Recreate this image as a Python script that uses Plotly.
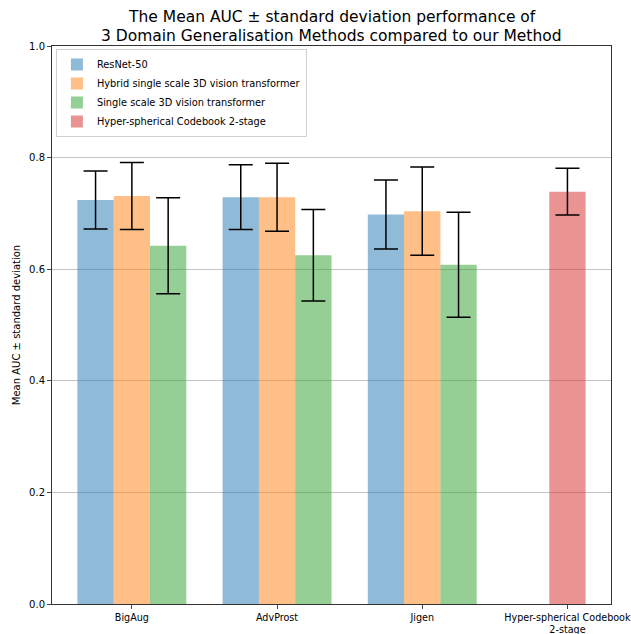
import plotly.graph_objects as go

categories = ["BigAug", "AdvProst", "Jigen", "Hyper-spherical Codebook<br>2-stage"]
series_names = ["ResNet-50", "Hybrid single scale 3D vision transformer",
                "Single scale 3D vision transformer", "Hyper-spherical Codebook 2-stage"]
resnet_mean = [0.724, 0.729, 0.698]
resnet_std = [0.052, 0.058, 0.062]
hybrid_mean = [0.731, 0.729, 0.704]
hybrid_std = [0.060, 0.061, 0.079]
single_mean = [0.642, 0.625, 0.608]
single_std = [0.086, 0.082, 0.094]
hyper_mean = [0.739]
hyper_std = [0.042]
title_lines = ["The Mean AUC ± standard deviation performance of",
               "3 Domain Generalisation Methods compared to our Method"]

colors = ["rgba(31,119,180,0.5)", "rgba(255,127,14,0.5)",
          "rgba(44,160,44,0.5)", "rgba(214,39,40,0.5)"]
width = 0.25

fig = go.Figure()
groups = [(resnet_mean, resnet_std, -width), (hybrid_mean, hybrid_std, 0.0),
          (single_mean, single_std, width)]
for i, (m, s, off) in enumerate(groups):
    fig.add_trace(go.Bar(
        x=[j + off for j in range(len(m))], y=m, width=width,
        name=series_names[i], marker=dict(color=colors[i], line=dict(width=0)),
        error_y=dict(type="data", array=s, color="black", thickness=1.5, width=12),
    ))
fig.add_trace(go.Bar(
    x=[3], y=hyper_mean, width=width, name=series_names[3],
    marker=dict(color=colors[3], line=dict(width=0)),
    error_y=dict(type="data", array=hyper_std, color="black", thickness=1.5, width=12),
))

H_plot = 558.0
def paper_y(py):
    return (604 - py) / H_plot

annotations = []
for k, (line, py) in enumerate(zip(title_lines, [17, 36])):
    annotations.append(dict(text=line, xref="paper", yref="paper", x=0.5, y=paper_y(py),
                            xanchor="center", yanchor="middle", showarrow=False,
                            font=dict(size=15.5, family="DejaVu Sans", color="black")))

fig.update_layout(
    width=631, height=634,
    margin=dict(l=52, r=20, t=46, b=30),
    plot_bgcolor="white", paper_bgcolor="white",
    barmode="overlay",
    font=dict(family="DejaVu Sans", size=10, color="black"),
    annotations=annotations,
    legend=dict(x=0.007, y=paper_y(49), xanchor="left", yanchor="top",
                bgcolor="rgba(255,255,255,0.8)", bordercolor="#d0d0d0", borderwidth=1,
                font=dict(size=9.8), tracegroupgap=0, itemwidth=30),
    showlegend=True,
)
fig.update_xaxes(range=[-0.55, 3.3], tickvals=list(range(len(categories))),
                 ticktext=categories, ticks="outside", ticklen=4, showgrid=False,
                 showline=True, linecolor="#333333", linewidth=1, mirror=True,
                 zeroline=False, automargin=False, ticklabeloverflow="allow",
                 tickfont=dict(size=9.6))
fig.update_yaxes(range=[0, 1.0], dtick=0.2, tickformat=".1f", ticks="outside", ticklen=4,
                 showgrid=True, gridcolor="#c4c4c4", gridwidth=1,
                 showline=True, linecolor="#333333", linewidth=1, mirror=True,
                 zeroline=False, automargin=False,
                 title=dict(text="Mean AUC ± standard deviation", font=dict(size=10), standoff=6))

fig.write_html("out.html", config={"displayModeBar": False},
               post_script="document.body.style.margin='0';document.body.style.overflow='hidden';")
